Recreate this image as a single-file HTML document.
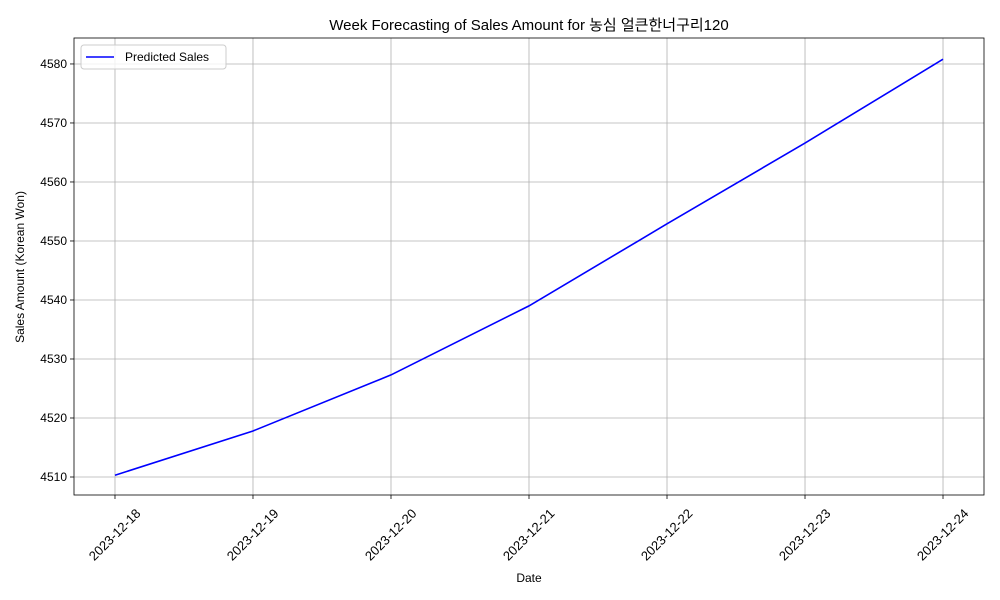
<!DOCTYPE html>
<html><head><meta charset="utf-8">
<style>
html,body{margin:0;padding:0;background:#fff;}
svg{display:block;font-family:"Liberation Sans","Noto Sans CJK KR",sans-serif;}
</style></head>
<body>
<svg id="chart" width="1000" height="600"></svg>
<script>
const categories = ["2023-12-18","2023-12-19","2023-12-20","2023-12-21","2023-12-22","2023-12-23","2023-12-24"];
const salesValues = [4510.3, 4517.8, 4527.3, 4539.0, 4552.9, 4566.6, 4580.8];
const yTicks = [4510, 4520, 4530, 4540, 4550, 4560, 4570, 4580];

const L=74, R=984, T=38, B=495;
const xMin=-0.297, xMax=6.297, yMin=4506.95, yMax=4584.4;
function xs(i){return L+(i-xMin)/(xMax-xMin)*(R-L);}
function ys(v){return B-(v-yMin)/(yMax-yMin)*(B-T);}
const NS="http://www.w3.org/2000/svg";
const svg=document.getElementById('chart');
function mk(tag,attrs,parent){const e=document.createElementNS(NS,tag);for(const k in attrs)e.setAttribute(k,attrs[k]);(parent||svg).appendChild(e);return e;}

const grid=mk('g',{});


categories.forEach((c,i)=>{
  const x=xs(i);
  mk('line',{x1:x,x2:x,y1:T,y2:B,stroke:'#b0b0b0','stroke-width':0.8},grid);
  mk('line',{x1:x,x2:x,y1:B,y2:B+4,stroke:'#000','stroke-width':0.8},grid);
  const t=mk('text',{x:0,y:4,'font-size':13,'text-anchor':'middle',transform:`translate(${x},${B+40}) rotate(-45)`},svg);
  
  
  t.textContent=c;
});
yTicks.forEach(v=>{
  const y=ys(v);
  mk('line',{x1:L,x2:R,y1:y,y2:y,stroke:'#b0b0b0','stroke-width':0.8},grid);
  mk('line',{x1:L-4,x2:L,y1:y,y2:y,stroke:'#000','stroke-width':0.8},grid);
  const t=mk('text',{x:L-7,y:y+4,'font-size':12,'text-anchor':'end'});
  
  
  t.textContent=v;
});

const line=mk('polyline',{points:salesValues.map((v,i)=>xs(i)+','+ys(v)).join(' '),fill:'none',stroke:'#0000ff','stroke-width':1.6});



const frame=mk('rect',{x:L,y:T,width:R-L,height:B-T,fill:'none',stroke:'#000','stroke-width':0.8});



const title=mk('text',{x:529,y:30,'font-size':15,'text-anchor':'middle'});


title.textContent='Week Forecasting of Sales Amount for 농심 얼큰한너구리120';

const xt=mk('text',{x:529,y:582,'font-size':12,'text-anchor':'middle'});


xt.textContent='Date';

const yt=mk('text',{x:0,y:0,'font-size':12,'text-anchor':'middle',transform:'translate(24,267) rotate(-90)'});


yt.textContent='Sales Amount (Korean Won)';

const lg=mk('g',{});


mk('rect',{x:81,y:45,width:145,height:24,rx:3,fill:'#fff','fill-opacity':0.8,stroke:'#ccc'},lg);
mk('line',{x1:86,x2:114,y1:57,y2:57,stroke:'#0000ff','stroke-width':1.6},lg);
const lt=mk('text',{x:125,y:61,'font-size':12},lg);


lt.textContent='Predicted Sales';
</script>
</body></html>
